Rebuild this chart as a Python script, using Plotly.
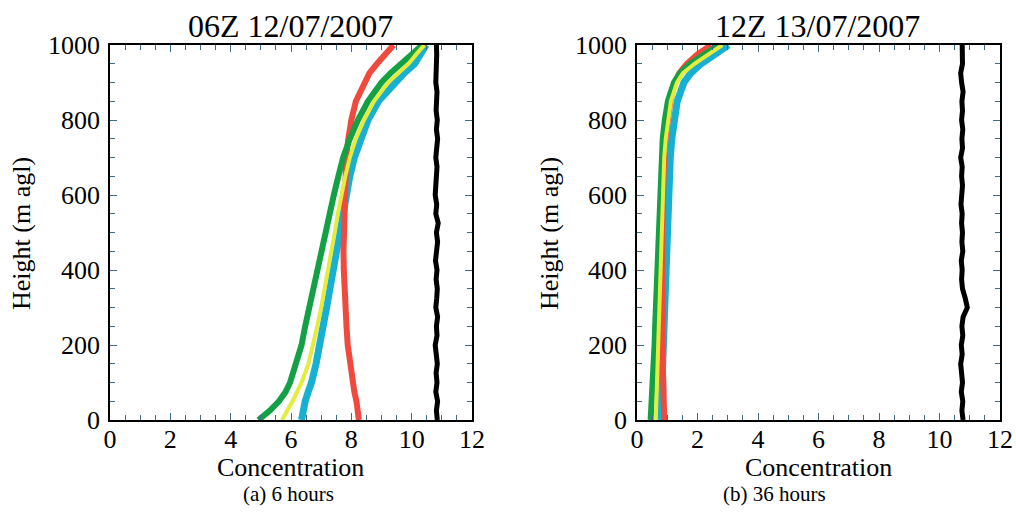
import plotly.graph_objects as go

# ---------------- data ----------------
heights = [0, 25, 50, 75, 100, 150, 200, 250, 300, 350, 400, 450, 500, 550,
           600, 650, 700, 750, 800, 850, 900, 925, 950, 975, 1000]

# panel (a) 6 hours
green_a = [4.92, 5.30, 5.60, 5.82, 5.97, 6.18, 6.35, 6.47, 6.60, 6.74, 6.86, 7.00, 7.14, 7.26,
           7.42, 7.57, 7.73, 7.95, 8.22, 8.55, 9.00, 9.30, 9.68, 10.00, 10.35]
yellow_a = [5.70, 5.88, 6.05, 6.20, 6.35, 6.58, 6.74, 6.87, 7.00, 7.12, 7.24, 7.35, 7.45, 7.55,
            7.67, 7.80, 7.95, 8.15, 8.42, 8.75, 9.22, 9.55, 9.90, 10.15, 10.42]
cyan_a = [6.35, 6.40, 6.47, 6.57, 6.68, 6.83, 6.96, 7.07, 7.18, 7.29, 7.40, 7.50, 7.60, 7.70,
          7.82, 7.95, 8.10, 8.30, 8.55, 8.90, 9.42, 9.75, 10.10, 10.30, 10.48]
red_a = [8.25, 8.22, 8.17, 8.10, 8.05, 7.95, 7.88, 7.84, 7.80, 7.77, 7.75, 7.74, 7.75, 7.76,
         7.78, 7.80, 7.83, 7.90, 8.00, 8.15, 8.42, 8.60, 8.85, 9.10, 9.40]

# panel (b) 36 hours
green_b = [0.45, 0.47, 0.49, 0.51, 0.53, 0.56, 0.58, 0.60, 0.62, 0.64, 0.66, 0.68, 0.70, 0.72,
           0.74, 0.77, 0.80, 0.85, 0.92, 1.02, 1.22, 1.42, 1.75, 2.20, 2.70]
yellow_b = [0.62, 0.63, 0.645, 0.66, 0.67, 0.69, 0.71, 0.72, 0.74, 0.75, 0.77, 0.78, 0.80, 0.82,
            0.84, 0.87, 0.90, 0.95, 1.02, 1.12, 1.32, 1.52, 1.90, 2.35, 2.82]
cyan_b = [0.78, 0.79, 0.80, 0.81, 0.82, 0.84, 0.86, 0.88, 0.90, 0.92, 0.94, 0.96, 0.98, 1.00,
          1.03, 1.06, 1.10, 1.15, 1.22, 1.33, 1.55, 1.78, 2.12, 2.55, 3.02]
red_b = [0.90, 0.90, 0.89, 0.88, 0.87, 0.85, 0.84, 0.83, 0.82, 0.82, 0.82, 0.82, 0.83, 0.84,
         0.85, 0.87, 0.90, 0.94, 1.00, 1.10, 1.25, 1.40, 1.65, 2.00, 2.45]

heights_black = [0, 25, 50, 75, 100, 125, 150, 175, 200, 225, 250, 275, 300, 325, 350, 375,
                 400, 425, 450, 475, 500, 525, 550, 575, 600, 625, 650, 675, 700, 725, 750,
                 775, 800, 825, 850, 875, 900, 925, 950, 975, 1000]
black_a = [10.85, 10.82, 10.86, 10.80, 10.84, 10.81, 10.85, 10.83, 10.78, 10.84, 10.82, 10.86,
           10.80, 10.83, 10.85, 10.81, 10.84, 10.79, 10.83, 10.86, 10.82, 10.88, 10.80, 10.83,
           10.78, 10.81, 10.82, 10.84, 10.80, 10.83, 10.86, 10.82, 10.85, 10.81, 10.83, 10.84,
           10.80, 10.82, 10.85, 10.83, 10.82]
black_b = [10.78, 10.74, 10.77, 10.72, 10.76, 10.73, 10.70, 10.75, 10.72, 10.77, 10.74, 10.78,
           10.92, 10.85, 10.76, 10.73, 10.75, 10.72, 10.77, 10.74, 10.76, 10.73, 10.75, 10.71,
           10.74, 10.76, 10.73, 10.75, 10.70, 10.76, 10.74, 10.77, 10.73, 10.76, 10.74, 10.78,
           10.73, 10.70, 10.76, 10.74, 10.75]

titles = ["06Z 12/07/2007", "12Z 13/07/2007"]
captions = ["(a) 6 hours", "(b) 36 hours"]
x_ticks = [0, 2, 4, 6, 8, 10, 12]
y_ticks = [0, 200, 400, 600, 800, 1000]

# ---------------- styling ----------------
FONT = "Liberation Serif"
C_GREEN = "#14a044"
C_YELLOW = "#e4ec3c"
C_CYAN = "#17b0d3"
C_RED = "#f04a3e"
C_BLACK = "#000000"
TICKC = "#3d6a86"

W, H = 1016, 514


def fx(px):
    return px / W


def fy(py):
    return 1 - py / H


fig = go.Figure()

panels = [
    ("x", "y", green_a, yellow_a, cyan_a, red_a, black_a),
    ("x2", "y2", green_b, yellow_b, cyan_b, red_b, black_b),
]
for xa, ya, g, yl, c, r, k in panels:
    fig.add_trace(go.Scatter(x=c, y=heights, mode="lines", line=dict(color=C_CYAN, width=7),
                             xaxis=xa, yaxis=ya, showlegend=False, hoverinfo="skip"))
    fig.add_trace(go.Scatter(x=r, y=heights, mode="lines", line=dict(color=C_RED, width=6),
                             xaxis=xa, yaxis=ya, showlegend=False, hoverinfo="skip"))
    fig.add_trace(go.Scatter(x=g, y=heights, mode="lines", line=dict(color=C_GREEN, width=6),
                             xaxis=xa, yaxis=ya, showlegend=False, hoverinfo="skip"))
    fig.add_trace(go.Scatter(x=yl, y=heights, mode="lines", line=dict(color=C_YELLOW, width=4),
                             xaxis=xa, yaxis=ya, showlegend=False, hoverinfo="skip"))
    fig.add_trace(go.Scatter(x=k, y=heights_black, mode="lines", line=dict(color=C_BLACK, width=5),
                             xaxis=xa, yaxis=ya, showlegend=False, hoverinfo="skip"))


def xaxis_style(domain, anchor):
    return dict(domain=domain, anchor=anchor, range=[0, 12], tickvals=x_ticks,
                ticks="inside", ticklen=7, tickwidth=1.2, tickcolor=TICKC,
                minor=dict(ticks="inside", dtick=0.5, ticklen=5, tickcolor=TICKC, tickwidth=1),
                showline=True, linecolor="black", linewidth=1.6, mirror="allticks",
                showgrid=False, zeroline=False, automargin=False,
                tickfont=dict(family=FONT, size=26, color="black"), ticklabelstandoff=-5)


def yaxis_style(domain, anchor):
    return dict(domain=domain, anchor=anchor, range=[0, 1000], tickvals=y_ticks,
                ticks="inside", ticklen=7, tickwidth=1.2, tickcolor=TICKC,
                minor=dict(ticks="inside", dtick=50, ticklen=5, tickcolor=TICKC, tickwidth=1),
                showline=True, linecolor="black", linewidth=1.6, mirror="allticks",
                showgrid=False, zeroline=False, automargin=False,
                tickfont=dict(family=FONT, size=26, color="black"), ticklabelstandoff=3)


ydom = [fy(420), fy(45)]
fig.update_layout(
    width=W, height=H,
    margin=dict(l=0, r=0, t=0, b=0, pad=0, autoexpand=False),
    paper_bgcolor="white", plot_bgcolor="white",
    xaxis=xaxis_style([fx(110), fx(472)], "y"),
    yaxis=yaxis_style(ydom, "x"),
    xaxis2=xaxis_style([fx(637), fx(1000)], "y2"),
    yaxis2=yaxis_style(ydom, "x2"),
)

ann = []
for i, (cx_title, cx_xlab, cx_cap, x_ylab) in enumerate([(290, 290.5, 288, 22), (817.5, 818, 774, 550)]):
    ann.append(dict(text=titles[i], x=fx(cx_title), y=fy(26), xref="paper", yref="paper",
                    xanchor="center", yanchor="middle", showarrow=False,
                    font=dict(family=FONT, size=32, color="black")))
    ann.append(dict(text="Concentration", x=fx(cx_xlab), y=fy(467), xref="paper", yref="paper",
                    xanchor="center", yanchor="middle", showarrow=False,
                    font=dict(family=FONT, size=26, color="black")))
    ann.append(dict(text="Height (m agl)", x=fx(x_ylab), y=fy(234), xref="paper", yref="paper",
                    xanchor="center", yanchor="middle", showarrow=False, textangle=-90,
                    font=dict(family=FONT, size=26, color="black")))
    ann.append(dict(text=captions[i], x=fx(cx_cap), y=fy(494), xref="paper", yref="paper",
                    xanchor="center", yanchor="middle", showarrow=False,
                    font=dict(family=FONT, size=21, color="black")))
fig.update_layout(annotations=ann)

# remove the default 8px page margin so the 1016x514 figure fills the window exactly
fig.write_html("out.html",
               config={"displayModeBar": False},
               post_script="document.body.style.margin='0';document.body.style.overflow='hidden';")
